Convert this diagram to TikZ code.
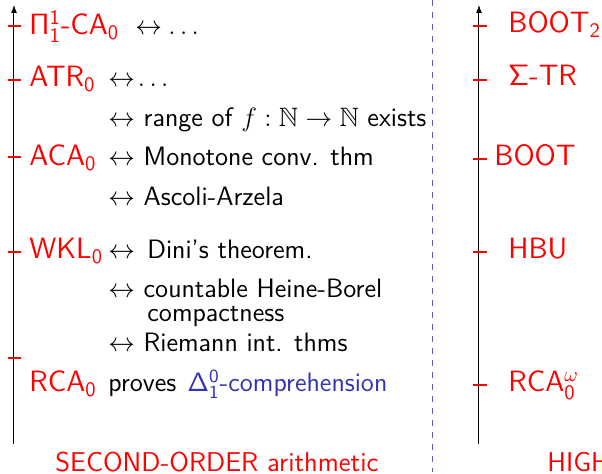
\RequirePackage{fix-cm}
\documentclass[tikz,border=0pt]{standalone}
\usepackage{amssymb}
\usetikzlibrary{arrows.meta}
\definecolor{struct}{RGB}{51,51,178}
\tikzset{
 lbl/.style={anchor=base west, inner sep=0pt, text=red, font=\sffamily\fontsize{14.7}{17}\selectfont},
 txt/.style={anchor=base west, inner sep=0pt, text=black, font=\sffamily\fontsize{13.3}{16}\selectfont},
 ttl/.style={anchor=base west, inner sep=0pt, text=red, font=\sffamily\fontsize{13.6}{16}\selectfont},
 axisline/.style={draw=black, line width=0.5pt, -{Latex[length=4pt,width=3pt]}},
 tickline/.style={draw=red, line width=0.6pt},
 sepline/.style={draw=struct!80, dashed, line width=0.5pt},
}
\begin{document}
\begin{tikzpicture}[x=0.5pt,y=-0.5pt]
\useasboundingbox (0,0) rectangle (602,474);
\clip (0,0) rectangle (602,474);
% axes
\coordinate (lb) at (14,444);
\coordinate (lt) at (14,5);
\coordinate (rb) at (479,444);
\coordinate (rt) at (479,5);
\draw[axisline] (lb) -- (lt);
\draw[axisline] (rb) -- (rt);
% separator
\coordinate (st) at (433,0);
\coordinate (sb) at (433,472);
\draw[sepline] (st) -- (sb);
% left ticks
\foreach \y in {26,80,157,252,358} \draw[tickline] (8,\y) -- (21,\y);
% right ticks
\foreach \y in {26,80,159,252,385} \draw[tickline] (473,\y) -- (487,\y);
% left labels
\node[lbl] (pi) at (29,35) {$\mathsf{\Pi^1_1}$-CA$_\mathsf{0}$};
\node[txt] (pia) at (135,35) {$\leftrightarrow$};
\node[txt] (pid) at (168,35) {$\ldots$};
\node[lbl] (atr) at (29,87) {ATR$_\mathsf{0}$};
\node[txt] (atra) at (108,87) {$\leftrightarrow\!\ldots$};
\node[txt] (rng) at (108,127) {$\leftrightarrow$ range of $f:\mathbb{N}\to\mathbb{N}$ exists};
\node[lbl] (aca) at (29,166) {ACA$_\mathsf{0}$};
\node[txt] (mon) at (108,166) {$\leftrightarrow$ Monotone conv. thm};
\node[txt] (asc) at (108,206) {$\leftrightarrow$ Ascoli-Arzela};
\node[lbl] (wkl) at (29,259) {WKL$_\mathsf{0}$};
\node[txt] (wkla) at (108,259) {$\leftrightarrow$};
\node[txt] (dini) at (147,259) {Dini's theorem.};
\node[txt] (hb) at (108,298) {$\leftrightarrow$ countable Heine-Borel};
\node[txt] (cpt) at (147,322) {compactness};
\node[txt] (rie) at (108,352) {$\leftrightarrow$ Riemann int. thms};
\node[lbl] (rca) at (29,392) {RCA$_\mathsf{0}$};
\node[txt] (prv) at (108,392) {proves};
\node[txt, text=struct] (dlt) at (187,392) {$\mathsf{\Delta^0_1}$-comprehension};
\node[ttl] (sec) at (55,472) {SECOND-ORDER arithmetic};
% right labels
\node[lbl] (boot2) at (508,33) {BOOT$_\mathsf{2}$};
\node[lbl] (str) at (508,86) {$\mathsf{\Sigma}$-TR};
\node[lbl] (boot) at (494,166) {BOOT};
\node[lbl] (hbu) at (508,259) {HBU};
\node[lbl] (rcaw) at (508,392) {RCA$^\omega_\mathsf{0}$};
\node[ttl] (high) at (547,472) {HIGHER-ORDER arithmetic};
\end{tikzpicture}
\end{document}
